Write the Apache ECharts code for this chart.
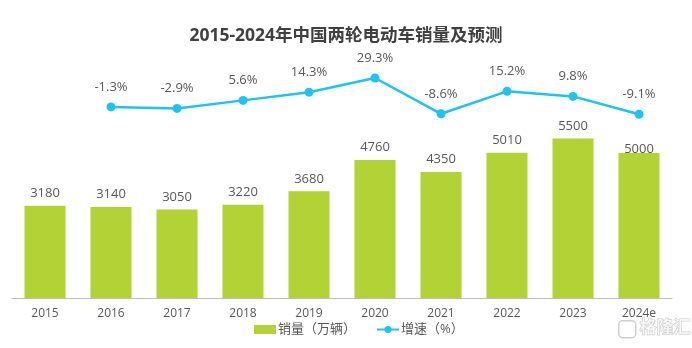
<!DOCTYPE html>
<html>
<head>
<meta charset="utf-8">
<script src="https://cdn.jsdelivr.net/npm/echarts@6/dist/echarts.min.js"></script>
<style>
  html, body { margin: 0; padding: 0; background: #fff; }
  #chart { width: 692px; height: 348px; }
</style>
</head>
<body>
<div id="chart"></div>
<script>
// Two-wheel EV sales in China, 2015-2024 (forecast for 2024)
const years = ['2015', '2016', '2017', '2018', '2019', '2020', '2021', '2022', '2023', '2024e'];
const sales = [3180, 3140, 3050, 3220, 3680, 4760, 4350, 5010, 5500, 5000];   // 万辆
const growth = [-1.3, -2.9, 5.6, 14.3, 29.3, -8.6, 15.2, 9.8, -9.1];          // %, from 2016
const growthYears = years.slice(1);

const FONT = '"Open Sans", "Noto Sans CJK SC", sans-serif';
const TEXT = '#595959';

const chart = echarts.init(document.getElementById('chart'), null, { renderer: 'canvas' });

const barData = sales.map((v, i) => {
  const item = { value: v };
  // last forecast label sits slightly into its bar
  if (i === sales.length - 1) item.label = { offset: [0, 9] };
  return item;
});

const lineData = growthYears.map((y, i) => [y, growth[i]]);

chart.setOption({
  animation: false,
  textStyle: { fontFamily: FONT },
  title: {
    text: '2015-2024年中国两轮电动车销量及预测',
    left: 'center',
    top: 22,
    textStyle: { fontFamily: FONT, fontSize: 17.5, fontWeight: 'bold', color: '#404040' }
  },
  legend: {
    bottom: 7,
    left: 249,
    itemGap: 20,
    itemWidth: 22,
    itemHeight: 9,
    textStyle: { color: TEXT, fontSize: 13, fontFamily: FONT, padding: [0, 0, 0, -3] },
    data: [
      { name: '销量（万辆）', icon: 'rect' },
      { name: '增速（%）' }
    ]
  },
  grid: { left: 12, right: 20, top: 14, bottom: 50 },
  xAxis: {
    type: 'category',
    data: years,
    axisLine: { lineStyle: { color: '#bfbfbf', width: 1 } },
    axisTick: { show: false },
    axisLabel: { color: TEXT, fontSize: 12, margin: 10, fontFamily: FONT }
  },
  yAxis: [
    { type: 'value', min: 0, max: 9800, show: false, splitLine: { show: false } },
    { type: 'value', min: -203.5, max: 97, show: false, splitLine: { show: false } }
  ],
  series: [
    {
      name: '销量（万辆）',
      type: 'bar',
      data: barData,
      barWidth: 41,
      itemStyle: { color: '#b2d235' },
      label: {
        show: true,
        position: 'top',
        distance: 6,
        color: TEXT,
        fontSize: 13,
        fontFamily: FONT
      }
    },
    {
      name: '增速（%）',
      type: 'line',
      yAxisIndex: 1,
      data: lineData,
      symbol: 'circle',
      symbolSize: 9,
      lineStyle: { color: '#1ec3ef', width: 2.5 },
      itemStyle: { color: '#1ec3ef' },
      label: {
        show: true,
        position: 'top',
        distance: 9,
        color: TEXT,
        fontSize: 13,
        fontFamily: FONT,
        formatter: p => p.value[1].toFixed(1) + '%'
      }
    }
  ],
  graphic: [
    {
      // watermark badge
      type: 'rect',
      left: 618,
      top: 320,
      shape: { width: 17, height: 17, r: 4 },
      style: { fill: 'rgba(255,255,255,0.6)', stroke: 'rgba(160,160,160,0.5)', lineWidth: 1.5 }
    },
    {
      type: 'text',
      left: 639,
      top: 318,
      style: {
        text: '格隆汇',
        fontSize: 17,
        fontWeight: 'bold',
        fill: 'rgba(255,255,255,0.6)',
        stroke: 'rgba(150,150,150,0.5)',
        lineWidth: 1,
        fontFamily: '"Noto Sans CJK SC", sans-serif'
      }
    }
  ]
});
</script>
</body>
</html>
